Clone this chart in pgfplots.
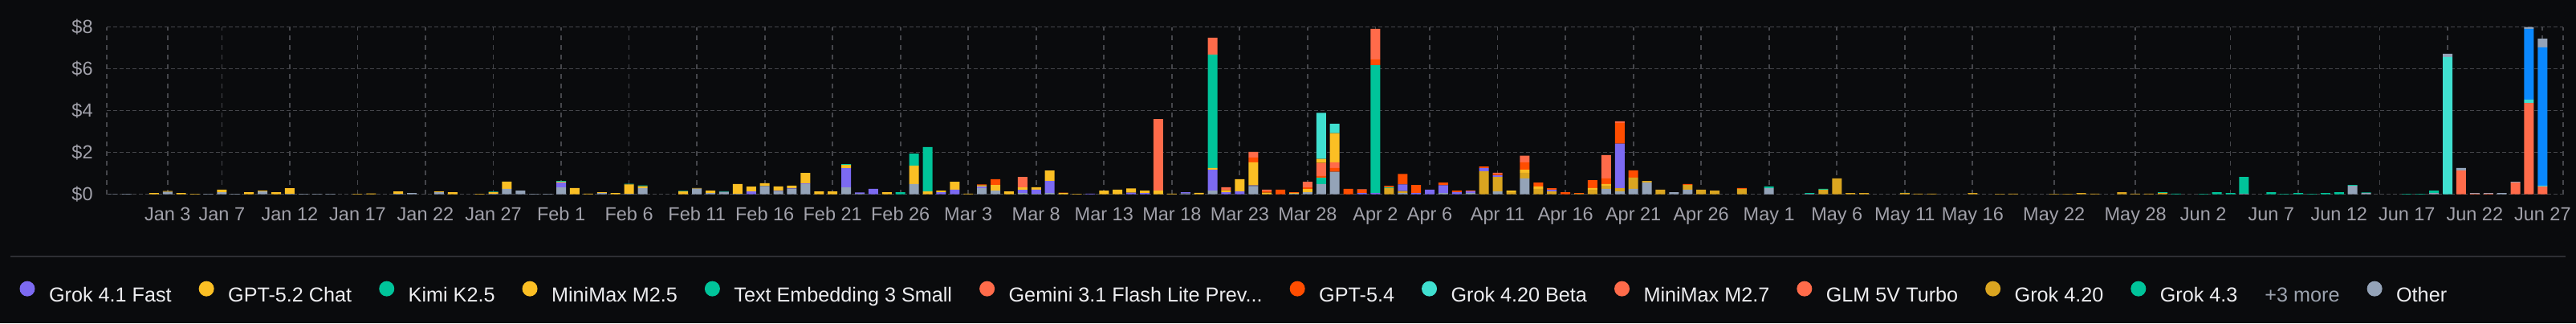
\documentclass[border=0pt]{standalone}
\usepackage{fontspec}
\setmainfont{Liberation Sans}
\usepackage{pgfplots}
\usepackage{pgfplotstable}
\pgfplotsset{compat=1.18}
\definecolor{bgc}{HTML}{0A0B0D}
\definecolor{gridc}{HTML}{45464B}
\definecolor{sepc}{HTML}{2E2F33}
\definecolor{tickc}{HTML}{A1A1AA}
\definecolor{legc}{HTML}{EDEDF0}
\definecolor{morec}{HTML}{9CA3AF}
\definecolor{cOther}{HTML}{94A3B8}
\definecolor{cPurple}{HTML}{7C6AF2}
\definecolor{cAmber}{HTML}{FBBF24}
\definecolor{cGold}{HTML}{DAA520}
\definecolor{cTeal}{HTML}{00C49A}
\definecolor{cRed}{HTML}{FF4D00}
\definecolor{cCoral}{HTML}{FF6B4A}
\definecolor{cTurq}{HTML}{40E0D0}
\definecolor{cBlue}{HTML}{0A88FE}

\pgfplotstableread{
d oB g420 g41 amb teal g54 cor amb2 turq blu oT
0 0.01 0 0 0 0 0 0 0 0 0 0
1 0.02 0 0 0 0 0 0 0 0 0 0
3 0 0 0 0.06 0 0 0 0 0 0 0
4 0.12 0 0 0.04 0 0 0 0 0 0 0
5 0 0 0 0.06 0 0 0 0 0 0 0
6 0 0 0 0.02 0 0 0 0 0 0 0
7 0.02 0 0 0 0 0 0 0 0 0 0
8 0.10 0 0 0.12 0 0 0 0 0 0 0
9 0.02 0 0 0 0 0 0 0 0 0 0
10 0 0 0 0.10 0 0 0 0 0 0 0
11 0.14 0 0 0.04 0 0 0 0 0 0 0
12 0 0 0 0.10 0 0 0 0 0 0 0
13 0.02 0 0 0.27 0 0 0 0 0 0 0
14 0.02 0 0 0 0 0 0 0 0 0 0
15 0.02 0 0 0 0 0 0 0 0 0 0
16 0.02 0 0 0 0 0 0 0 0 0 0
18 0 0 0 0.02 0 0 0 0 0 0 0
19 0 0 0 0.04 0 0 0 0 0 0 0
21 0.02 0 0 0.12 0 0 0 0 0 0 0
22 0.06 0 0 0 0 0 0 0 0 0 0
24 0.10 0 0 0.04 0 0 0 0 0 0 0
25 0 0 0 0.10 0 0 0 0 0 0 0
27 0 0 0 0.02 0 0 0 0 0 0 0
28 0.02 0 0 0.08 0.03 0 0 0 0 0 0
29 0.26 0 0 0.35 0 0 0 0 0 0 0
30 0.18 0 0 0 0 0 0 0 0 0 0
31 0.02 0 0 0 0 0 0 0 0 0 0
32 0.02 0 0 0 0 0 0 0 0 0 0
33 0.33 0 0.23 0.04 0.04 0 0 0 0 0 0
34 0 0 0 0.30 0 0 0 0 0 0 0
35 0 0 0 0.03 0 0 0 0 0 0 0
36 0.06 0 0 0.04 0 0 0 0 0 0 0
37 0 0 0 0.06 0 0 0 0 0 0 0
38 0.02 0 0 0.45 0.03 0 0 0 0 0 0
39 0.30 0 0 0.09 0.04 0 0 0 0 0 0
42 0 0 0 0.14 0.03 0 0 0 0 0 0
43 0.27 0 0 0.03 0 0 0 0 0 0 0
44 0.06 0 0 0.12 0 0 0 0 0 0 0
45 0.12 0 0 0 0.03 0 0 0 0 0 0
46 0.02 0 0 0.47 0 0 0 0 0 0 0
47 0 0 0.14 0.23 0 0 0 0 0 0 0
48 0.40 0 0 0.13 0 0 0 0 0 0 0
49 0.16 0 0.02 0.20 0 0 0 0 0 0 0
50 0.27 0 0.03 0.12 0 0 0 0 0 0 0
51 0.49 0 0.03 0.50 0 0 0 0 0 0 0
52 0 0 0 0.14 0 0 0 0 0 0 0
53 0 0 0 0.14 0 0 0 0 0 0 0
54 0.33 0 0.92 0.16 0.04 0 0 0 0 0 0
55 0.03 0 0.06 0 0 0 0 0 0 0 0
56 0 0 0.26 0 0 0 0 0 0 0 0
57 0 0 0 0.10 0 0 0 0 0 0 0
58 0 0 0 0 0.10 0 0 0 0 0 0
59 0.49 0 0 0.88 0.58 0 0 0 0 0 0
60 0 0 0 0.14 2.12 0 0 0 0 0 0
61 0 0 0.10 0.08 0 0 0 0 0 0 0
62 0 0 0.22 0.38 0 0 0 0 0 0 0
63 0 0 0 0.03 0 0 0 0 0 0 0
64 0.30 0 0.08 0.06 0 0.03 0 0 0 0 0
65 0.18 0 0 0.27 0 0.27 0 0 0 0 0
66 0 0 0 0.14 0 0 0 0 0 0 0
67 0.06 0 0.15 0.12 0 0 0.50 0 0 0 0
68 0.02 0 0.20 0.12 0 0 0 0 0 0 0
69 0.06 0 0.58 0.50 0 0 0 0 0 0 0
70 0 0 0 0.06 0 0.02 0 0 0 0 0
71 0 0 0 0.02 0 0 0 0 0 0 0
72 0 0 0.03 0 0 0 0 0 0 0 0
73 0 0 0 0.18 0 0 0 0 0 0 0
74 0 0 0 0.22 0 0 0 0 0 0 0
75 0 0 0.08 0.20 0 0 0 0 0 0 0
76 0 0 0.06 0.12 0 0 0 0 0 0 0
77 0 0 0 0.18 0 0 3.42 0 0 0 0
78 0 0 0 0.03 0 0 0 0 0 0 0
79 0.04 0 0.06 0 0 0 0 0 0 0 0
80 0 0 0 0.07 0 0 0 0 0 0 0
81 0.18 0 1.00 0.08 5.43 0 0.80 0 0 0 0
82 0 0 0.10 0.10 0 0 0.14 0 0 0 0
83 0 0 0.14 0.58 0 0 0 0 0 0 0
84 0.40 0 0.03 1.10 0 0.23 0.27 0 0 0 0
85 0 0 0 0.08 0 0.07 0.07 0 0 0 0
86 0 0 0 0 0 0.22 0 0 0 0 0
87 0.03 0 0 0.04 0 0.03 0 0 0 0 0
88 0.10 0 0 0.15 0 0.08 0.27 0 0 0 0
89 0.49 0 0 0 0.30 0.09 0.62 0.20 2.20 0 0
90 1.08 0 0 0 0 0.18 0.27 1.40 0.45 0 0
91 0 0 0 0 0 0.26 0 0 0 0 0
92 0 0 0.06 0 0 0.15 0.03 0 0 0 0
93 0 0 0.06 0 6.12 0.28 1.46 0 0 0 0
94 0 0.30 0 0 0.04 0.07 0 0 0 0 0
95 0.06 0.10 0.31 0 0 0.50 0 0 0 0 0
96 0 0 0.06 0 0 0.39 0 0 0 0 0
97 0 0 0.22 0 0 0 0 0 0 0 0
98 0.06 0 0.38 0 0 0.12 0 0 0 0 0
99 0 0 0.10 0 0 0.08 0 0 0 0 0
100 0.06 0 0.08 0 0 0 0.04 0 0 0 0
101 0 1.10 0.15 0 0 0.08 0 0 0 0 0
102 0.14 0.69 0.08 0 0 0.05 0.07 0 0 0 0
103 0 0.10 0 0.08 0 0 0 0 0 0 0
104 0.76 0.27 0 0.15 0 0.35 0.32 0 0 0 0
105 0 0.26 0 0.12 0 0.18 0 0 0 0 0
106 0 0.14 0.08 0 0 0.07 0 0 0 0 0
107 0 0 0 0 0 0.10 0 0 0 0 0
108 0 0.03 0 0 0 0.03 0 0 0 0 0
109 0 0.22 0 0.08 0 0.38 0 0 0 0 0
110 0.26 0.15 0 0.08 0 0.27 1.12 0 0 0 0
111 0.14 0.15 2.14 0 0 0.99 0.07 0 0 0 0
112 0.26 0.54 0 0 0 0.35 0 0 0 0 0
113 0.56 0.08 0 0 0 0 0 0 0 0 0
114 0 0.22 0 0 0 0 0 0 0 0 0
115 0.10 0 0 0 0 0 0 0 0 0 0
116 0.22 0.23 0 0 0 0.04 0 0 0 0 0
117 0 0.22 0 0 0 0 0 0 0 0 0
118 0 0.18 0 0 0 0 0 0 0 0 0
120 0 0.26 0 0 0 0.04 0 0 0 0 0
122 0.30 0 0 0 0.08 0 0 0 0 0 0
125 0.02 0 0 0 0.04 0 0 0 0 0 0
126 0 0.22 0 0 0.04 0 0 0 0 0 0
127 0 0.76 0 0 0 0 0 0 0 0 0
128 0 0.06 0 0 0 0 0 0 0 0 0
129 0 0.06 0 0 0 0 0 0 0 0 0
132 0 0.06 0 0 0.01 0 0 0 0 0 0
133 0 0.03 0 0 0 0 0 0 0 0 0
134 0 0.03 0 0 0 0 0 0 0 0 0
137 0 0.06 0 0 0 0 0 0 0 0 0
139 0 0.02 0 0 0 0 0 0 0 0 0
140 0 0.03 0 0 0 0 0 0 0 0 0
143 0 0.02 0 0 0 0 0 0 0 0 0
144 0 0.02 0 0 0 0 0 0 0 0 0
145 0 0.06 0 0 0 0 0 0 0 0 0
146 0 0.03 0 0 0 0 0 0 0 0 0
148 0 0.10 0 0 0 0 0 0 0 0 0
149 0 0.03 0 0 0 0 0 0 0 0 0
150 0 0.03 0 0 0 0 0 0 0 0 0
151 0 0.06 0 0 0.04 0 0 0 0 0 0
152 0 0 0 0 0.03 0 0 0 0 0 0
154 0 0 0 0 0.02 0 0 0 0 0 0
155 0 0 0 0 0.10 0 0 0 0 0 0
156 0 0 0 0 0.06 0 0 0 0 0 0
157 0.03 0 0 0 0.80 0 0 0 0 0 0
159 0 0 0 0 0.10 0 0 0 0 0 0
160 0 0 0 0 0.02 0 0 0 0 0 0
161 0 0 0 0 0.06 0 0 0 0 0 0
162 0 0 0 0 0.02 0 0 0 0 0 0
163 0 0 0 0 0.06 0 0 0 0 0 0
164 0 0 0 0 0.10 0 0 0 0 0 0
165 0.41 0 0 0 0.04 0 0 0 0 0 0
166 0.06 0 0 0 0.03 0 0 0 0 0 0
169 0 0 0 0 0.02 0 0 0 0 0 0
170 0 0 0 0 0.02 0 0 0 0 0 0
171 0.06 0 0 0 0.12 0 0 0 0 0 0
172 0 0 0 0 0 0 0 0 6.57 0 0.15
173 0 0 0 0 0 0 1.14 0 0 0 0.12
174 0 0 0 0 0 0 0.03 0 0 0 0.03
175 0 0 0 0 0 0 0.03 0 0 0 0.03
176 0 0 0 0 0 0 0 0 0 0 0.06
177 0 0 0 0 0 0 0.56 0 0 0 0.04
178 0 0 0 0 0 0 4.37 0 0.16 3.39 0.08
179 0 0 0 0 0 0 0.38 0 0.04 6.61 0.42
}\data

\begin{document}
\begin{tikzpicture}
\fill[bgc] (0,0) rectangle (1604.5pt,201pt);
\draw[sepc, line width=0.8pt] (6.5pt,41.5pt) -- (1598pt,41.5pt);
\begin{axis}[
  at={(66.35pt,80.15pt)}, anchor=south west,
  scale only axis, width=1530pt, height=104pt,
  xmin=-0.5, xmax=180.5, ymin=0, ymax=8,
  enlargelimits=false,
  ybar stacked, bar width=6pt,
  axis line style={draw=none},
  tick style={draw=none}, major tick length=0pt,
  ytick={0,2,4,6,8}, yticklabels={\$0,\$2,\$4,\$6,\$8},
  yticklabel style={font=\fontsize{11.75}{13}\selectfont, text=tickc, anchor=east, inner sep=0pt, xshift=-8.35pt},
  xtick={4,8,13,18,23,28,33,38,43,48,53,58,63,68,73,78,83,88,93,97,102,107,112,117,122,127,132,137,143,149,154,159,164,169,174,179},
  xticklabels={Jan 3,Jan 7,Jan 12,Jan 17,Jan 22,Jan 27,Feb 1,Feb 6,Feb 11,Feb 16,Feb 21,Feb 26,Mar 3,Mar 8,Mar 13,Mar 18,Mar 23,Mar 28,Apr 2,Apr 6,Apr 11,Apr 16,Apr 21,Apr 26,May 1,May 6,May 11,May 16,May 22,May 28,Jun 2,Jun 7,Jun 12,Jun 17,Jun 22,Jun 27},
  xticklabel style={font=\fontsize{11.75}{13}\selectfont, text=tickc, anchor=base, inner sep=0pt, yshift=-16.4pt},
  ymajorgrids,
  y grid style={gridc, line width=0.7pt, dash pattern=on 2.5pt off 1.5pt},
  x grid style={gridc, line width=0.9pt, dash pattern=on 3pt off 3pt},
  extra x ticks={-0.5,4,8,13,18,23,28,33,38,43,48,53,58,63,68,73,78,83,88,93,97,102,107,112,117,122,127,132,137,143,149,156,161,167,172,179,180.5},
  extra x tick labels={},
  extra x tick style={grid=major, tick style={draw=none}},
]
\addplot[fill=cOther, draw=none] table[x=d,y=oB]{\data};
\addplot[fill=cGold, draw=none] table[x=d,y=g420]{\data};
\addplot[fill=cPurple, draw=none] table[x=d,y=g41]{\data};
\addplot[fill=cAmber, draw=none] table[x=d,y=amb]{\data};
\addplot[fill=cTeal, draw=none] table[x=d,y=teal]{\data};
\addplot[fill=cRed, draw=none] table[x=d,y=g54]{\data};
\addplot[fill=cCoral, draw=none] table[x=d,y=cor]{\data};
\addplot[fill=cAmber, draw=none] table[x=d,y=amb2]{\data};
\addplot[fill=cTurq, draw=none] table[x=d,y=turq]{\data};
\addplot[fill=cBlue, draw=none] table[x=d,y=blu]{\data};
\addplot[fill=cOther, draw=none] table[x=d,y=oT]{\data};
\end{axis}
\begin{axis}[
  at={(66.35pt,80.15pt)}, anchor=south west,
  scale only axis, width=1530pt, height=104pt,
  xmin=0, xmax=1, ymin=0, ymax=1,
  hide axis,
  legend columns=-1,
  legend cell align=left,
  legend image code/.code={\fill (4.75pt,4.3pt) circle[radius=4.75pt]; \path[fill=none,draw=none] (0pt,-0.45pt) rectangle (18.25pt,9.05pt);},
  legend style={at={(-0.03536,-0.588)}, anchor=west, draw=none, fill=none, inner sep=0pt, outer sep=0pt,
    text=legc, font=\fontsize{12.6}{14}\selectfont,
    nodes={inner sep=0pt},
    /tikz/every odd column/.append style={column sep=0pt},
    /tikz/every even column/.append style={column sep=17pt}},
]
\addlegendimage{fill=cPurple, draw=none}\addlegendentry{Grok 4.1 Fast}
\addlegendimage{fill=cAmber, draw=none}\addlegendentry{GPT-5.2 Chat}
\addlegendimage{fill=cTeal, draw=none}\addlegendentry{Kimi K2.5}
\addlegendimage{fill=cAmber, draw=none}\addlegendentry{MiniMax M2.5}
\addlegendimage{fill=cTeal, draw=none}\addlegendentry{Text Embedding 3 Small}
\addlegendimage{fill=cCoral, draw=none}\addlegendentry{Gemini 3.1 Flash Lite Prev...}
\addlegendimage{fill=cRed, draw=none}\addlegendentry{GPT-5.4}
\addlegendimage{fill=cTurq, draw=none}\addlegendentry{Grok 4.20 Beta}
\addlegendimage{fill=cCoral, draw=none}\addlegendentry{MiniMax M2.7}
\addlegendimage{fill=cCoral, draw=none}\addlegendentry{GLM 5V Turbo}
\addlegendimage{fill=cGold, draw=none}\addlegendentry{Grok 4.20}
\addlegendimage{fill=cTeal, draw=none}\addlegendentry{Grok 4.3\hspace{17pt}\textcolor{morec}{+3 more}}
\addlegendimage{fill=cOther, draw=none}\addlegendentry{Other}
\end{axis}
\pgfresetboundingbox
\path (0,0) rectangle (1604.5pt,201pt);
\end{tikzpicture}
\end{document}
